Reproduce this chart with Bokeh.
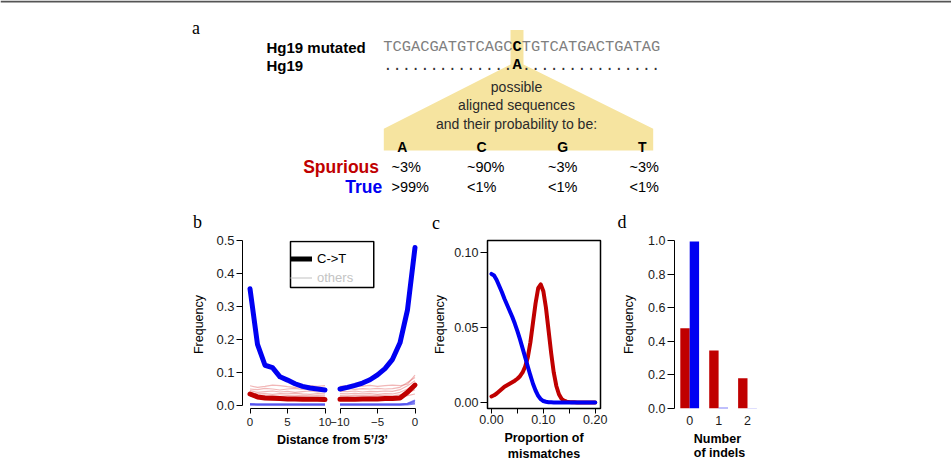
from bokeh.plotting import figure
from bokeh.layouts import column, row
from bokeh.models import (Range1d, FixedTicker, Legend, LegendItem, Span, Title,
                          PrintfTickFormatter, ColumnDataSource, BoxAnnotation)
from bokeh.transform import dodge
from bokeh.embed import file_html
from bokeh.resources import INLINE
from bokeh.core.properties import value

# ---------------- data ----------------
# panel a
SEQ_MUTATED = "TCGACGATGTCAGCCTGTCATGACTGATAG"
SEQ_REFERENCE = ".............." + "A" + "..............."
MUT_POS = 14
BASES = ["A", "C", "G", "T"]
SPURIOUS_PROB = ["~3%", "~90%", "~3%", "~3%"]
TRUE_PROB = [">99%", "<1%", "<1%", "<1%"]

# panel b : distance from 5' end (0..10) and from 3' end (-10..0)
DIST5 = [0, 1, 2, 3, 4, 5, 6, 7, 8, 9, 10]
DIST3 = [-10, -9, -8, -7, -6, -5, -4, -3, -2, -1, 0]
TRUE_CT_5 = [0.354, 0.185, 0.122, 0.115, 0.087, 0.077, 0.066, 0.058, 0.053, 0.050, 0.047]
TRUE_CT_3 = [0.050, 0.055, 0.061, 0.068, 0.078, 0.093, 0.112, 0.140, 0.190, 0.290, 0.479]
SPUR_CT_5 = [0.035, 0.026, 0.023, 0.022, 0.021, 0.020, 0.020, 0.019, 0.019, 0.019, 0.018]
SPUR_CT_3 = [0.019, 0.019, 0.019, 0.020, 0.020, 0.020, 0.021, 0.021, 0.023, 0.040, 0.062]
SPUR_OTHERS_5 = [
    [0.060, 0.055, 0.058, 0.062, 0.060, 0.057, 0.055, 0.058, 0.060, 0.058, 0.060],
    [0.050, 0.048, 0.052, 0.050, 0.047, 0.050, 0.052, 0.049, 0.050, 0.052, 0.050],
    [0.045, 0.040, 0.042, 0.044, 0.041, 0.043, 0.040, 0.042, 0.044, 0.041, 0.043],
    [0.040, 0.035, 0.036, 0.034, 0.036, 0.035, 0.037, 0.035, 0.034, 0.036, 0.035],
    [0.033, 0.030, 0.029, 0.030, 0.028, 0.030, 0.029, 0.031, 0.029, 0.030, 0.029],
    [0.028, 0.025, 0.026, 0.025, 0.026, 0.024, 0.025, 0.026, 0.025, 0.024, 0.025],
]
SPUR_OTHERS_3 = [
    [0.058, 0.060, 0.057, 0.059, 0.061, 0.058, 0.060, 0.062, 0.060, 0.065, 0.092],
    [0.050, 0.052, 0.049, 0.051, 0.050, 0.052, 0.050, 0.051, 0.055, 0.070, 0.085],
    [0.043, 0.042, 0.044, 0.041, 0.043, 0.042, 0.044, 0.043, 0.048, 0.060, 0.075],
    [0.036, 0.035, 0.037, 0.035, 0.036, 0.034, 0.036, 0.035, 0.040, 0.050, 0.065],
    [0.030, 0.029, 0.031, 0.030, 0.029, 0.031, 0.030, 0.029, 0.032, 0.038, 0.048],
    [0.025, 0.026, 0.024, 0.025, 0.026, 0.025, 0.024, 0.026, 0.027, 0.030, 0.035],
]
TRUE_OTHERS_5 = [
    [0.004, 0.003, 0.003, 0.003, 0.003, 0.003, 0.003, 0.003, 0.003, 0.003, 0.003],
    [0.002, 0.002, 0.002, 0.002, 0.002, 0.002, 0.002, 0.002, 0.002, 0.002, 0.002],
    [0.005, 0.004, 0.004, 0.004, 0.004, 0.004, 0.004, 0.004, 0.004, 0.004, 0.004],
]
TRUE_OTHERS_3 = [
    [0.003, 0.003, 0.003, 0.003, 0.003, 0.003, 0.003, 0.003, 0.003, 0.005, 0.012],
    [0.002, 0.002, 0.002, 0.002, 0.002, 0.002, 0.002, 0.002, 0.002, 0.003, 0.006],
    [0.004, 0.004, 0.004, 0.004, 0.004, 0.004, 0.004, 0.004, 0.004, 0.006, 0.016],
]
B_XTICK_LABELS = ["0", "5", "10", "\u221210", "\u22125", "0"]

# panel c : proportion of mismatches
MISM_PROP = [0.000, 0.005, 0.010, 0.015, 0.020, 0.025, 0.030, 0.035, 0.040, 0.045,
             0.050, 0.055, 0.060, 0.065, 0.070, 0.075, 0.080, 0.085, 0.090, 0.095,
             0.100, 0.105, 0.110, 0.115, 0.120, 0.125, 0.130, 0.135, 0.140, 0.145,
             0.150, 0.155, 0.160, 0.165, 0.170, 0.175, 0.180, 0.185, 0.190, 0.195, 0.200]
SPUR_DENSITY = [0.0040, 0.0048, 0.0060, 0.0075, 0.0090, 0.0105, 0.0115, 0.0125, 0.0135, 0.0145,
                0.0158, 0.0175, 0.0200, 0.0240, 0.0300, 0.0400, 0.0530, 0.0660, 0.0760, 0.0785,
                0.0740, 0.0630, 0.0480, 0.0330, 0.0200, 0.0110, 0.0055, 0.0025, 0.0012, 0.0006,
                0.0003, 0.0002, 0.0002, 0.0001, 0.0001, 0.0001, 0.0001, 0.0001, 0.0001, 0.0001, 0.0001]
TRUE_DENSITY = [0.0855, 0.0845, 0.0815, 0.0775, 0.0735, 0.0690, 0.0650, 0.0610, 0.0570, 0.0525,
                0.0475, 0.0420, 0.0360, 0.0300, 0.0240, 0.0180, 0.0125, 0.0080, 0.0045, 0.0022,
                0.0010, 0.0005, 0.0002, 0.0002, 0.0001, 0.0001, 0.0001, 0.0001, 0.0001, 0.0001,
                0.0001, 0.0001, 0.0001, 0.0001, 0.0001, 0.0001, 0.0001, 0.0001, 0.0001, 0.0001, 0.0001]

# panel d : number of indels
INDELS = [0, 1, 2]
SPUR_INDEL = [0.477, 0.345, 0.180]
TRUE_INDEL = [0.994, 0.004, 0.001]

# ---------------- styles ----------------
SANS = "Liberation Sans"
SERIF = "Liberation Serif"
MONO = "Liberation Mono"
RED = "#c00000"
BLUE = "#0000f2"
YELLOW = "#f6e4a0"
TXT = "#1a1a1a"

TOP_H = 233          # height of the diagram strip (panel a)
ROW_H = 464 - TOP_H  # height of the plot strip (panels b, c, d)
B_TOP, B_BOTTOM = 7, 55  # common top / bottom borders of b, c, d


def base_fig(**kw):
    p = figure(toolbar_location=None, output_backend="svg", title=None, **kw)
    p.grid.visible = False
    p.background_fill_color = "white"
    p.border_fill_color = "white"
    return p


def style_axis(ax, size, tick_out=6, standoff=2):
    ax.axis_line_color = "black"
    ax.axis_line_width = 1
    ax.major_tick_line_color = "black"
    ax.major_tick_in = 0
    ax.major_tick_out = tick_out
    ax.minor_tick_line_color = None
    ax.major_label_text_font = SANS
    ax.major_label_text_font_size = size
    ax.major_label_text_color = TXT
    ax.major_label_standoff = standoff
    ax.axis_label_text_font = SANS
    ax.axis_label_text_font_style = "normal"
    ax.axis_label_text_color = "black"


# ---------------- panel a (diagram + panel letters) ----------------
pa = base_fig(width=951, height=TOP_H, x_range=Range1d(0, 951), y_range=Range1d(TOP_H, 0),
              x_axis_location=None, y_axis_location=None, min_border=0)
pa.outline_line_color = None
pa.add_layout(Span(location=1, dimension="width", line_color="#555555", line_width=2))

pa.patch([510, 523, 523, 652.7, 652.7, 383.3, 383.3, 510],
         [29.5, 29.5, 64, 128.3, 150, 150, 128.3, 64],
         fill_color=YELLOW, line_color=None)

CH_W = 9.24
SEQ_X0 = 382.7
mono = dict(text_font=value(MONO), text_font_size=value("15.4px"),
            text_align="left", text_baseline="alphabetic")
pa.text(x=[SEQ_X0, SEQ_X0 + (MUT_POS + 1) * CH_W], y=[46.5, 46.5],
        text=[SEQ_MUTATED[:MUT_POS], SEQ_MUTATED[MUT_POS + 1:]], text_color="#7f7f7f", **mono)
pa.text(x=[SEQ_X0 + MUT_POS * CH_W], y=[46.5], text=[SEQ_MUTATED[MUT_POS]],
        text_color="black", text_font_style="bold", **mono)
pa.text(x=[SEQ_X0, SEQ_X0 + (MUT_POS + 1) * CH_W], y=[64.5, 64.5],
        text=[SEQ_REFERENCE[:MUT_POS], SEQ_REFERENCE[MUT_POS + 1:]], text_color="#333333", **mono)
pa.text(x=[SEQ_X0 + MUT_POS * CH_W], y=[64.5], text=[SEQ_REFERENCE[MUT_POS]],
        text_color="black", text_font_style="bold", **mono)

pa.text(x=[266, 266], y=[46.5, 64.5], text=["Hg19 mutated", "Hg19"],
        text_font=value(SANS), text_font_size=value("15px"), text_font_style="bold",
        text_color="black", text_align="left", text_baseline="alphabetic")

pa.text(x=[516, 516, 516], y=[86, 104.5, 123],
        text=["possible", "aligned sequences", "and their probability to be:"],
        text_font=value(SANS), text_font_size=value("14px"), text_color="#2a2a2a",
        text_align="center", text_baseline="alphabetic")

pa.text(x=[401.7, 481, 562.3, 641.7], y=[146.7] * 4, text=BASES,
        text_font=value(SANS), text_font_size=value("14px"), text_font_style="bold",
        text_color="black", text_align="center", text_baseline="alphabetic")

pa.text(x=[378.5], y=[166.5], text=["Spurious"], text_font=value(SANS),
        text_font_size=value("17.5px"), text_font_style="bold", text_color=RED,
        text_align="right", text_baseline="alphabetic")
pa.text(x=[381.7], y=[186.5], text=["True"], text_font=value(SANS),
        text_font_size=value("17.5px"), text_font_style="bold", text_color=BLUE,
        text_align="right", text_baseline="alphabetic")

VAL_X = [391, 466.5, 547.5, 629]
pa.text(x=VAL_X, y=[166.5] * 4, text=SPURIOUS_PROB, text_font=value(SANS),
        text_font_size=value("14.5px"), text_color="black",
        text_align="left", text_baseline="alphabetic")
pa.text(x=VAL_X, y=[186.5] * 4, text=TRUE_PROB, text_font=value(SANS),
        text_font_size=value("14.5px"), text_color="black",
        text_align="left", text_baseline="alphabetic")

pa.text(x=[191.5, 192.5, 431.5, 617], y=[27, 221.5, 222.5, 221.5],
        text=["a", "b", "c", "d"], text_font=value(SERIF), text_font_size=value("18px"),
        text_color="black", text_align="left", text_baseline="middle")

# ---------------- panel b ----------------
RIGHT_OFFSET = 22  # the 3' block (-10..0) is drawn after the 5' block on a shared axis
pb = base_fig(width=430, height=ROW_H, x_range=Range1d(-1.0, 23.0),
              y_range=Range1d(-0.00904, 0.5001),
              min_border_left=242, min_border_right=8,
              min_border_top=B_TOP, min_border_bottom=B_BOTTOM)
pb.outline_line_color = None

x5 = DIST5
x3 = [d + RIGHT_OFFSET for d in DIST3]
pb.multi_line([x5] * len(SPUR_OTHERS_5) + [x3] * len(SPUR_OTHERS_3),
              SPUR_OTHERS_5 + SPUR_OTHERS_3, line_color="#e06060", line_alpha=0.45, line_width=1.2)
pb.multi_line([x5] * len(TRUE_OTHERS_5) + [x3] * len(TRUE_OTHERS_3),
              TRUE_OTHERS_5 + TRUE_OTHERS_3, line_color="#5050ee", line_alpha=0.75, line_width=1.8)
for xs, ys, col in [(x5, TRUE_CT_5, BLUE), (x3, TRUE_CT_3, BLUE),
                    (x5, SPUR_CT_5, RED), (x3, SPUR_CT_3, RED)]:
    pb.line(xs, ys, line_color=col, line_width=5, line_cap="round", line_join="round")

ya = pb.yaxis[0]
style_axis(ya, "13px", tick_out=6, standoff=2)
ya.bounds = (0, 0.5)
ya.ticker = FixedTicker(ticks=[0.0, 0.1, 0.2, 0.3, 0.4, 0.5])
ya.formatter = PrintfTickFormatter(format="%.1f")
ya.axis_label = "Frequency"
ya.axis_label_text_font_size = "12.5px"
ya.axis_label_standoff = 7

xa = pb.xaxis[0]
style_axis(xa, "11.5px", tick_out=5, standoff=4)
xa.bounds = (0, RIGHT_OFFSET)
xa.axis_line_dash = "75 15"
b_ticks = x5[::5] + x3[::5]
xa.ticker = FixedTicker(ticks=b_ticks)
xa.major_label_overrides = {t: lab for t, lab in zip(b_ticks, B_XTICK_LABELS)}
xa.axis_label = "Distance from 5\u2019/3\u2019"
xa.axis_label_text_font_style = "bold"
xa.axis_label_text_font_size = "12.5px"
xa.axis_label_standoff = 4

# legend: a framed box holding two single-row legends (black "C->T", grey "others")
pb.add_layout(BoxAnnotation(left=5.4, right=16.5, top=0.497, bottom=0.358,
                            fill_color="white", fill_alpha=1,
                            line_color="black", line_alpha=1, line_width=1.5))
leg_ct = pb.line([-50, -49], [-1, -1], line_color="black", line_width=5)
leg_oth = pb.line([-50, -49], [-1, -1], line_color="#cccccc", line_width=1.2)
leg_kw = dict(padding=5, spacing=0, margin=0, label_height=17,
              glyph_height=17, glyph_width=22, label_standoff=5, label_width=40,
              label_text_font=SANS, label_text_font_size="13px",
              border_line_color=None, background_fill_alpha=0)
pb.add_layout(Legend(items=[LegendItem(label="C->T", renderers=[leg_ct])],
                     location=(48, 141), label_text_color="black", **leg_kw))
pb.add_layout(Legend(items=[LegendItem(label="others", renderers=[leg_oth])],
                     location=(48, 122), label_text_color="#c4c4c4", **leg_kw))

# ---------------- panel c ----------------
pc = base_fig(width=185, height=ROW_H, x_range=Range1d(-0.00764, 0.21012),
              y_range=Range1d(-0.00397, 0.10773),
              min_border_left=56, min_border_right=15,
              min_border_top=B_TOP, min_border_bottom=B_BOTTOM)
pc.outline_line_color = "black"
pc.outline_line_width = 1.5
pc.line(MISM_PROP, SPUR_DENSITY, line_color=RED, line_width=4, line_cap="round", line_join="round")
pc.line(MISM_PROP, TRUE_DENSITY, line_color=BLUE, line_width=4, line_cap="round", line_join="round")

cy = pc.yaxis[0]
style_axis(cy, "12.5px", tick_out=7, standoff=2)
cy.axis_line_color = None
cy.ticker = FixedTicker(ticks=[0.0, 0.05, 0.10])
cy.formatter = PrintfTickFormatter(format="%.2f")
cy.axis_label = "Frequency"
cy.axis_label_text_font_size = "12.5px"
cy.axis_label_standoff = 4

cx = pc.xaxis[0]
style_axis(cx, "12.5px", tick_out=5, standoff=1)
cx.axis_line_color = None
cx.ticker = FixedTicker(ticks=[0.0, 0.10, 0.20], minor_ticks=[0.05, 0.15])
cx.minor_tick_line_color = "black"
cx.minor_tick_in = 0
cx.minor_tick_out = 5
cx.formatter = PrintfTickFormatter(format="%.2f")
cx.axis_label = "Proportion of\nmismatches"
cx.axis_label_text_font_style = "bold"
cx.axis_label_text_font_size = "12.5px"
cx.axis_label_standoff = 4

# ---------------- panel d ----------------
pd_ = base_fig(width=336, height=ROW_H, x_range=Range1d(-0.526, 2.588), y_range=Range1d(0, 1.0001),
               min_border_left=59, min_border_right=187,
               min_border_top=B_TOP, min_border_bottom=B_BOTTOM)
pd_.outline_line_color = None
src_d = ColumnDataSource(dict(indel=INDELS, spur=SPUR_INDEL, true=TRUE_INDEL))
pd_.vbar(x=dodge("indel", -0.1625, range=pd_.x_range), top="spur", width=0.325,
         fill_color=RED, line_color=None, source=src_d)
pd_.vbar(x=dodge("indel", 0.1625, range=pd_.x_range), top="true", width=0.325,
         fill_color=BLUE, line_color=None, source=src_d)

dy = pd_.yaxis[0]
style_axis(dy, "12.5px", tick_out=7, standoff=2)
dy.bounds = (0, 1)
dy.ticker = FixedTicker(ticks=[0.0, 0.2, 0.4, 0.6, 0.8, 1.0])
dy.formatter = PrintfTickFormatter(format="%.1f")
dy.axis_label = "Frequency"
dy.axis_label_text_font_size = "12.5px"
dy.axis_label_standoff = 9

dx = pd_.xaxis[0]
style_axis(dx, "12.5px", tick_out=0, standoff=7)
dx.axis_line_color = None
dx.major_tick_line_color = None
dx.ticker = FixedTicker(ticks=INDELS)
pd_.add_layout(Title(text="Number\nof indels", align="center", offset=-8, standoff=4,
                     text_font=SANS, text_font_size="12.5px", text_font_style="bold",
                     text_color="black"), "below")

layout = column(pa, row(pb, pc, pd_))
open("out.html", "w").write(file_html(layout, INLINE))
